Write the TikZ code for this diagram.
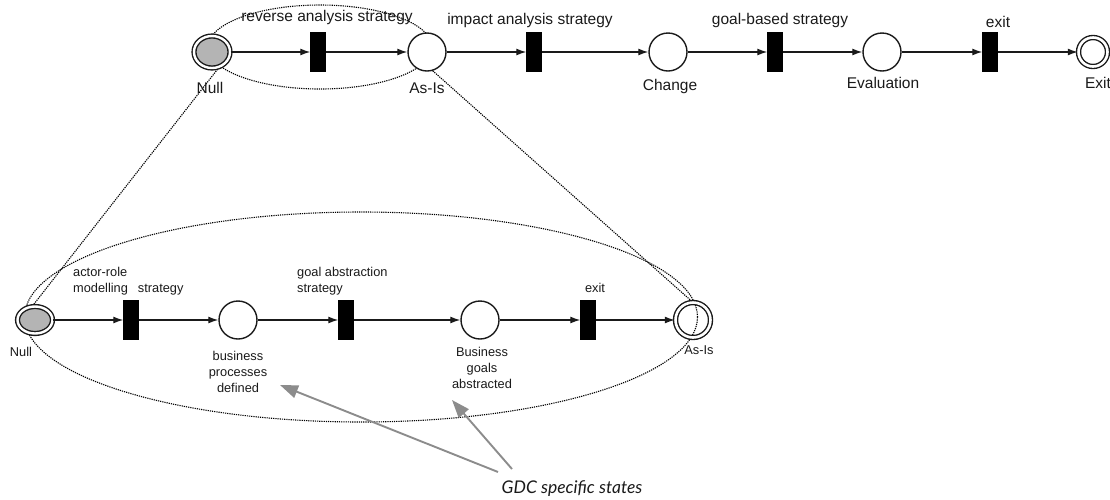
\documentclass[tikz,border=0pt]{standalone}
\usepackage{fontspec}
\setmainfont{Liberation Sans}
\newfontfamily\notefont{Lato}
\usetikzlibrary{arrows.meta,shapes.geometric,backgrounds}
\definecolor{ink}{HTML}{1A1A1A}
\definecolor{startgray}{HTML}{B4B4B4}
\definecolor{pointer}{HTML}{8C8C8C}
\tikzset{
  place/.style={circle, draw=ink, line width=1.4pt, fill=white, minimum size=38pt, inner sep=0pt},
  placeopen/.style={circle, draw=ink, line width=1.4pt, double=white, double distance=2.6pt, minimum size=35pt, inner sep=0pt},
  startst/.style={ellipse, draw=ink, line width=1.4pt, double=white, double distance=2.4pt, fill=startgray, inner sep=0pt},
  finalst/.style={circle, draw=ink, line width=1.4pt, double=white, double distance=2.6pt, fill=white, minimum size=29pt, inner sep=0pt},
  trans/.style={rectangle, fill=black, draw=black, minimum width=15pt, minimum height=39pt, inner sep=0pt},
  flow/.style={draw=ink, line width=1.3pt, -{Latex[length=10pt,width=7pt]}},
  zoomline/.style={draw=black, line width=1.1pt, dash pattern=on 1.2pt off 1pt},
  toplabel/.style={text=ink, font=\fontsize{15.5}{19}\selectfont, inner sep=0pt},
  sublabel/.style={text=ink, font=\fontsize{12.8}{15.6}\selectfont, inner sep=0pt},
  pointerarrow/.style={draw=pointer, line width=1.9pt, -{Triangle[length=18pt,width=13pt]}},
}
\begin{document}
\begin{tikzpicture}[x=1pt, y=-1pt]
\useasboundingbox (0,0) rectangle (1110,499);

% ---- method map: top level ----
\node[startst, minimum width=36pt, minimum height=32pt] (nullT) at (212,52) {};
\node[trans] (t1T) at (318,52) {};
\node[place] (asisT) at (427,52) {};
\node[trans] (t2T) at (534,52) {};
\node[place] (change) at (668,52) {};
\node[trans] (t3T) at (775,52) {};
\node[place] (eval) at (882,52) {};
\node[trans] (t4T) at (990,52) {};
\node[finalst] (exitT) at (1093,52) {};

\draw[flow] (nullT) -- (t1T);
\draw[flow] (t1T) -- (asisT);
\draw[flow] (asisT) -- (t2T);
\draw[flow] (t2T) -- (change);
\draw[flow] (change) -- (t3T);
\draw[flow] (t3T) -- (eval);
\draw[flow] (eval) -- (t4T);
\draw[flow] (t4T) -- (exitT);

\node[toplabel] (lrev) at (327,17) {reverse analysis strategy};
\node[toplabel] (limp) at (530,20) {impact analysis strategy};
\node[toplabel] (lgoal) at (780,20) {goal-based strategy};
\node[toplabel] (lexitT) at (998,22) {exit};
\node[toplabel] (lnullT) at (210,88) {Null};
\node[toplabel] (lasisT) at (427,88) {As-Is};
\node[toplabel] (lchange) at (670,86) {Change};
\node[toplabel] (leval) at (883,83) {Evaluation};
\node[toplabel] (lexit) at (1098,83) {Exit};

% ---- refined section: reverse analysis ----
\node[startst, minimum width=35pt, minimum height=27pt] (nullB) at (35,320) {};
\node[trans] (t1B) at (131,320) {};
\node[place] (bpd) at (238,320) {};
\node[trans] (t2B) at (346,320) {};
\node[place] (bga) at (480,320) {};
\node[trans] (t3B) at (588,320) {};
\node[placeopen] (asisB) at (693,320) {};

\draw[flow] (nullB) -- (t1B);
\draw[flow] (t1B) -- (bpd);
\draw[flow] (bpd) -- (t2B);
\draw[flow] (t2B) -- (bga);
\draw[flow] (bga) -- (t3B);
\draw[flow] (t3B) -- (asisB);

\node[sublabel, align=left, anchor=west] (lactor) at (73,281) {actor-role\\modelling\hspace{10pt}strategy};
\node[sublabel, align=left, anchor=west] (labs) at (297,281) {goal abstraction\\strategy};
\node[sublabel] (lexitB) at (595,288) {exit};
\node[sublabel] (lnullB) at (21,352) {Null};
\node[sublabel] (lasisB) at (699,350) {As-Is};
\node[sublabel, align=center] (lbpd) at (238,372) {business\\processes\\defined};
\node[sublabel, align=center] (lbga) at (482,368) {Business\\goals\\abstracted};

% ---- annotation ----
\node[text=ink, font=\notefont\itshape\fontsize{17.5}{20}\selectfont, inner sep=0pt] (gdc) at (572,489) {GDC specific states};
\coordinate (tail1) at (498,472);
\coordinate (tip1) at (280,385);
\coordinate (tail2) at (512,469);
\coordinate (tip2) at (452,400);
\draw[pointerarrow] (tail1) -- (tip1);
\draw[pointerarrow] (tail2) -- (tip2);

% ---- dotted zoom outlines behind the states ----
\begin{pgfonlayer}{background}
  \node[ellipse, zoomline, minimum width=224pt, minimum height=84pt, inner sep=0pt] (zoomTop) at (320,47) {};
  \node[ellipse, zoomline, minimum width=673pt, minimum height=210pt, inner sep=0pt] (zoomBottom) at (361,317) {};
  \draw[zoomline] (nullT.-66) -- (nullB.100);
  \draw[zoomline] (asisT.-73) -- (asisB.92);
\end{pgfonlayer}
\end{tikzpicture}
\end{document}
